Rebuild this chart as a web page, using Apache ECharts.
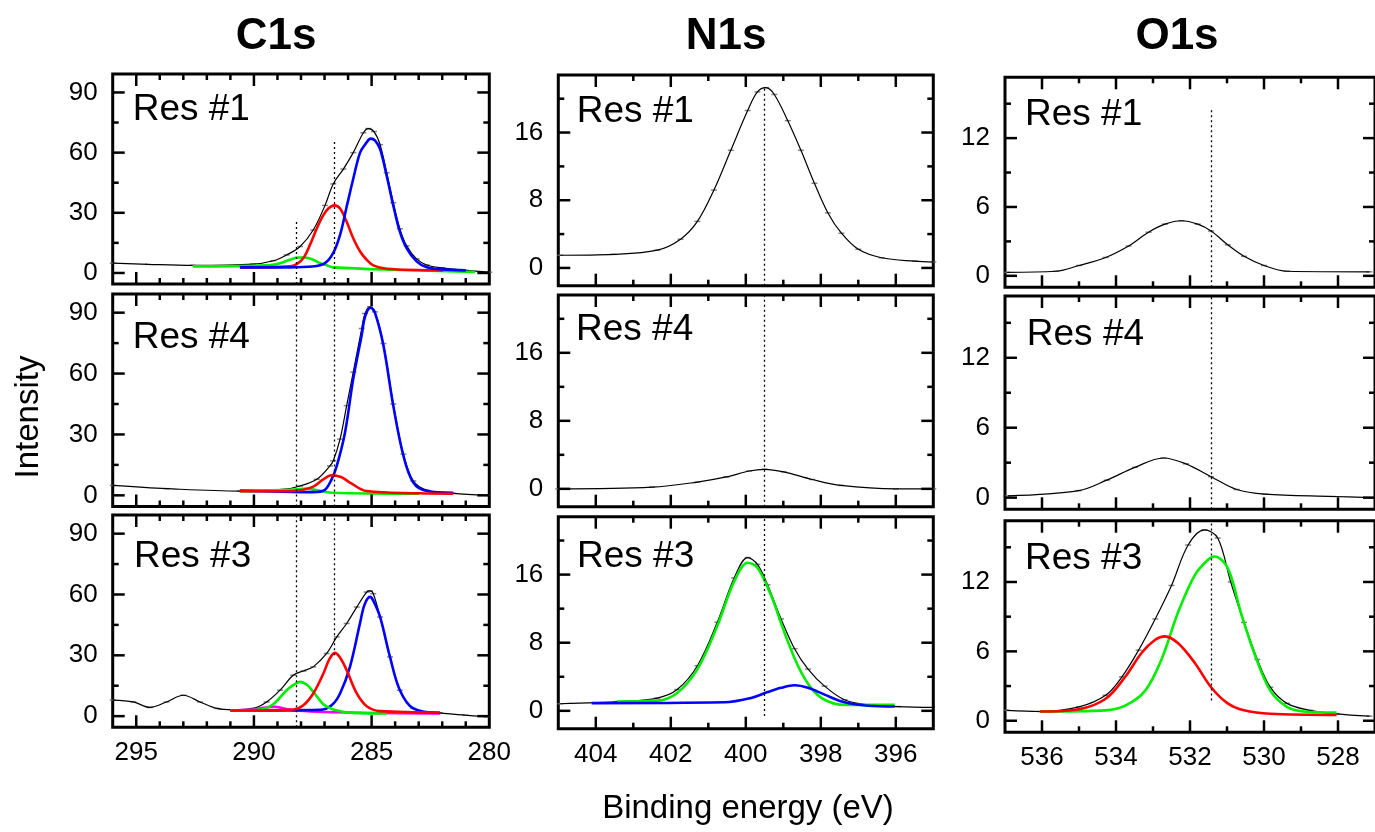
<!DOCTYPE html>
<html>
<head>
<meta charset="utf-8">
<script src="https://cdn.jsdelivr.net/npm/echarts/dist/echarts.min.js"></script>
<style>
html,body{margin:0;padding:0;background:#fff;}
#chart{width:1375px;height:832px;}
</style>
</head>
<body>
<div id="chart"></div>
<script>
// ---------------- Tick values ----------------
const C1S_X_MAJOR = [285, 290, 295];
const C1S_X_MINOR = [281, 282, 283, 284, 286, 287, 288, 289, 291, 292, 293, 294];
const C1S_X_LABELS = [280, 285, 290, 295];
const C1S_Y_MAJOR = [0, 30, 60, 90];
const C1S_Y_MINOR = [15, 45, 75];
const N1S_X_MAJOR = [396, 398, 400, 402, 404];
const N1S_X_MINOR = [397, 399, 401, 403];
const N1S_Y_MAJOR = [0, 8, 16];
const N1S_Y_MINOR = [4, 12, 20];
const O1S_X_MAJOR = [528, 530, 532, 534, 536];
const O1S_X_MINOR = [529, 531, 533, 535];
const O1S_Y_MAJOR = [0, 6, 12];
const O1S_Y_MINOR = [3, 9, 15];

const COLUMN_TITLES = ['C1s', 'N1s', 'O1s'];
const ROW_LABELS = ['Res #1', 'Res #4', 'Res #3'];

// ---------------- C1s, Res #1 ----------------
const C1_R1_FIT_E = [280.0, 281.0, 282.0, 282.66, 283.09, 283.51, 283.8, 284.08, 284.36, 284.64, 284.9, 285.14, 285.35, 285.78, 286.2, 286.63, 286.98, 287.48, 288.04, 288.61, 289.18, 290.04, 292.6, 294.5, 296.0];
const C1_R1_FIT_I = [0.4, 1.3, 2.5, 4.0, 7.0, 13.5, 22.0, 35.0, 50.0, 64.0, 70.5, 72.0, 69.9, 60.0, 51.8, 44.4, 33.7, 21.4, 13.2, 9.0, 6.1, 4.4, 3.8, 4.3, 4.9];
const C1_R1_BLUE_E = [281.0, 282.0, 282.66, 283.09, 283.51, 283.8, 284.08, 284.36, 284.64, 284.85, 285.04, 285.25, 285.49, 285.78, 286.06, 286.34, 286.63, 286.98, 287.5, 288.5, 290.6];
const C1_R1_BLUE_I = [1.3, 1.8, 2.8, 5.8, 12.3, 20.6, 33.7, 48.5, 61.7, 66.0, 67.0, 64.5, 60.0, 47.0, 33.0, 19.0, 10.0, 4.9, 3.2, 2.8, 2.8];
const C1_R1_RED_E = [281.96, 284.36, 284.93, 285.21, 285.49, 285.78, 286.06, 286.34, 286.58, 286.84, 287.05, 287.33, 287.62, 287.9, 288.18, 288.47, 290.58];
const C1_R1_RED_I = [1.3, 2.1, 3.8, 6.6, 10.7, 17.3, 25.5, 32.1, 33.7, 32.1, 28.8, 22.2, 14.0, 7.4, 4.4, 3.3, 2.8];
const C1_R1_GREEN_E = [280.61, 283.8, 286.63, 286.91, 287.19, 287.48, 287.83, 288.11, 288.47, 288.89, 289.46, 292.6];
const C1_R1_GREEN_I = [0.5, 1.5, 2.8, 3.8, 4.9, 6.6, 7.7, 7.7, 6.6, 4.9, 3.8, 3.3];

// ---------------- C1s, Res #4 ----------------
const C1_R2_FIT_E = [280.11, 281.53, 282.66, 283.23, 283.65, 284.08, 284.5, 284.86, 285.07, 285.28, 285.42, 285.78, 286.06, 286.34, 286.63, 286.77, 287.33, 288.04, 288.75, 290.59, 293.7, 296.0];
const C1_R2_FIT_I = [0.0, 1.0, 2.6, 7.1, 20.3, 45.0, 74.8, 90.4, 92.9, 89.6, 82.2, 60.7, 44.2, 27.7, 17.0, 14.5, 7.9, 4.6, 2.9, 2.1, 3.3, 4.9];
const C1_R2_BLUE_E = [281.53, 282.66, 283.23, 283.65, 284.08, 284.5, 284.86, 285.04, 285.28, 285.42, 285.78, 286.13, 286.48, 286.7, 287.0, 287.48, 290.6];
const C1_R2_BLUE_I = [1.3, 2.1, 6.3, 19.5, 44.2, 73.9, 90.0, 92.4, 88.0, 79.0, 57.4, 31.0, 14.5, 7.9, 2.6, 1.6, 2.3];
const C1_R2_RED_E = [281.53, 283.0, 285.21, 285.92, 286.3, 286.7, 287.1, 287.48, 288.33, 290.6];
const C1_R2_RED_I = [0.8, 1.0, 2.1, 6.3, 9.0, 9.9, 7.5, 4.3, 2.1, 2.0];
const C1_R2_GREEN_E = [283.0, 286.7, 287.3, 287.76, 288.3, 290.6];
const C1_R2_GREEN_I = [0.8, 1.3, 2.5, 3.3, 2.8, 2.0];

// ---------------- C1s, Res #3 ----------------
const C1_R3_FIT_E = [280.11, 281.03, 282.1, 283.23, 283.8, 284.22, 284.64, 284.93, 285.07, 285.21, 285.63, 286.06, 286.48, 286.91, 287.48, 287.9, 288.33, 288.89, 289.46, 290.03, 290.88, 291.58, 292.29, 293.0, 293.71, 294.42, 295.12, 296.0];
const C1_R3_FIT_I = [-0.3, 0.5, 1.6, 3.8, 12.8, 29.2, 48.9, 60.4, 61.8, 61.2, 53.8, 45.7, 39.1, 30.9, 24.3, 22.3, 20.2, 12.8, 7.0, 3.8, 3.1, 3.8, 7.0, 10.3, 7.0, 4.3, 7.0, 7.9];
const C1_R3_BLUE_E = [282.1, 283.23, 283.8, 284.22, 284.64, 284.93, 285.07, 285.3, 285.49, 285.92, 286.34, 286.7, 287.19, 291.0];
const C1_R3_BLUE_I = [1.6, 3.8, 12.8, 29.2, 48.9, 57.0, 58.8, 55.0, 46.0, 24.3, 11.2, 5.4, 3.1, 2.8];
const C1_R3_RED_E = [282.1, 284.64, 285.21, 285.63, 286.06, 286.35, 286.56, 286.8, 287.05, 287.48, 287.9, 288.33, 291.0];
const C1_R3_RED_I = [1.8, 2.5, 4.9, 11.2, 22.7, 29.0, 31.2, 28.0, 21.0, 11.2, 5.4, 3.3, 2.8];
const C1_R3_GREEN_E = [284.36, 285.8, 286.63, 287.05, 287.48, 287.75, 288.04, 288.3, 288.61, 289.18, 289.74, 291.0];
const C1_R3_GREEN_I = [1.3, 1.6, 3.3, 5.9, 12.0, 15.5, 16.9, 15.5, 12.8, 5.9, 3.3, 2.8];
const C1_R3_MAG_E = [282.1, 286.0, 288.3, 288.8, 289.1, 289.5, 290.0, 291.0];
const C1_R3_MAG_I = [1.3, 1.8, 2.8, 4.0, 4.6, 4.3, 3.3, 2.8];

// ---------------- N1s ----------------
const N1_R1_FIT_E = [395.0, 395.49, 396.38, 397.0, 397.45, 397.81, 398.17, 398.53, 398.88, 399.24, 399.46, 399.69, 399.95, 400.4, 400.85, 401.29, 401.74, 402.36, 403.53, 404.95];
const N1_R1_FIT_I = [0.7, 0.8, 1.2, 2.2, 4.1, 6.5, 10.0, 13.9, 17.4, 20.5, 21.3, 20.8, 18.6, 13.9, 9.2, 5.5, 3.4, 2.1, 1.6, 1.5];
const N1_R2_FIT_E = [395.0, 396.0, 397.46, 398.23, 398.99, 399.5, 399.91, 400.52, 401.29, 402.5, 405.0];
const N1_R2_FIT_I = [0.0, 0.0, 0.4, 1.1, 2.0, 2.3, 2.1, 1.4, 0.8, 0.2, 0.0];
const N1_R3_FIT_E = [394.95, 395.94, 396.74, 397.37, 397.9, 398.34, 398.7, 399.06, 399.42, 399.69, 399.95, 400.31, 400.76, 401.29, 401.83, 402.36, 403.26, 404.95];
const N1_R3_FIT_I = [0.4, 0.5, 0.7, 1.3, 2.9, 4.9, 7.3, 10.8, 14.8, 17.2, 18.0, 15.6, 10.4, 5.3, 2.5, 1.5, 1.1, 0.83];
const N1_R3_GREEN_E = [396.03, 397.37, 397.9, 398.26, 398.61, 398.97, 399.33, 399.69, 399.95, 400.31, 400.76, 401.29, 401.83, 402.36, 403.44];
const N1_R3_GREEN_I = [0.7, 0.7, 1.3, 2.7, 5.3, 9.2, 13.6, 16.8, 17.4, 15.2, 10.0, 4.9, 2.1, 1.2, 1.1];
const N1_R3_BLUE_E = [396.03, 396.74, 397.37, 397.9, 398.34, 398.7, 399.06, 399.42, 399.86, 400.58, 404.11];
const N1_R3_BLUE_I = [0.5, 0.6, 1.0, 1.9, 2.7, 3.0, 2.7, 2.2, 1.5, 1.0, 0.9];

// ---------------- O1s ----------------
const O1_R1_FIT_E = [527.15, 529.38, 530.0, 530.54, 530.98, 531.43, 531.79, 532.23, 532.68, 533.12, 533.66, 534.28, 535.0, 535.62, 536.95];
const O1_R1_FIT_I = [0.35, 0.4, 0.9, 1.7, 2.7, 3.9, 4.5, 4.8, 4.5, 3.8, 2.6, 1.6, 0.9, 0.4, 0.3];
const O1_R2_FIT_E = [527.1, 528.14, 529.98, 530.74, 531.43, 532.11, 532.72, 533.49, 534.25, 535.01, 536.92];
const O1_R2_FIT_I = [0.0, 0.1, 0.3, 0.7, 1.8, 2.9, 3.4, 2.6, 1.5, 0.6, 0.15];
const O1_R3_FIT_E = [527.15, 528.04, 528.76, 529.38, 529.83, 530.18, 530.54, 530.9, 531.25, 531.61, 532.05, 532.5, 532.94, 533.39, 533.84, 534.28, 535.0, 536.06, 536.95];
const O1_R3_FIT_I = [0.4, 0.6, 0.9, 1.5, 2.9, 5.3, 8.5, 12.0, 15.8, 16.5, 15.2, 11.7, 8.8, 6.1, 3.8, 2.2, 1.2, 0.8, 0.9];
const O1_R3_GREEN_E = [528.04, 528.93, 529.38, 529.83, 530.27, 530.63, 530.98, 531.34, 531.52, 531.87, 532.32, 532.77, 533.21, 533.75, 534.28, 536.06];
const O1_R3_GREEN_I = [0.7, 0.8, 1.2, 2.6, 5.9, 9.4, 13.2, 14.2, 13.9, 12.6, 9.4, 5.3, 2.6, 1.3, 0.9, 0.8];
const O1_R3_RED_E = [528.04, 529.83, 530.54, 530.98, 531.43, 531.87, 532.32, 532.68, 532.94, 533.3, 533.75, 534.28, 535.0, 536.06];
const O1_R3_RED_I = [0.5, 0.6, 0.9, 1.5, 2.9, 5.0, 6.7, 7.3, 7.0, 5.9, 3.8, 1.9, 1.0, 0.8];

// ---------------- Dotted reference lines (energy, [low, high] per row) ----------------
const C1S_DOT_E = [288.2, 286.6];
const C1S_DOT_SPANS = [[[-5.5, 25.5], [-5.5, 66.6]], [[-5.5, 99.2], [-5.5, 99.2]], [[-5.5, 99.2], [30, 99.2]]];
const N1S_DOT_E = [399.5];
const N1S_DOT_SPANS = [[[-2.1, 21.4]], [[-2.1, 22.8]], [[-0.6, 22.8]]];
const O1S_DOT_E = [531.43];
const O1S_DOT_SPANS = [[[-1, 14.6]], [[-1, 17.3]], [[1.75, 17.3]]];

// ---------------- Layout / style ----------------
const FONT = '"Liberation Sans", Arial, Helvetica, sans-serif';
const GREEN = '#00ee00', BLUE = '#0000ff', RED = '#ff0000', MAG = '#ff00ff';
const MAJOR_LEN = 12, MINOR_LEN = 6, TICK_W = 2.5;

const COLUMNS = [
  {left: 112.7, width: 376.6, xr: [280, 296], yr: [-5.5, 99.2], xMaj: C1S_X_MAJOR, xMin: C1S_X_MINOR, xLab: C1S_X_LABELS, yMaj: C1S_Y_MAJOR, yMin: C1S_Y_MINOR,
   tops: [74, 294, 515], heights: [210, 212.5, 212.3], titleX: 276, dotE: C1S_DOT_E, dotSpans: C1S_DOT_SPANS,
   labelPos: [[132.7, 110], [132.7, 338], [134, 557]]},
  {left: 558.3, width: 375, xr: [395, 405], yr: [-2.1, 22.8], xMaj: N1S_X_MAJOR, xMin: N1S_X_MINOR, xLab: N1S_X_MAJOR, yMaj: N1S_Y_MAJOR, yMin: N1S_Y_MINOR,
   tops: [75, 295, 516.7], heights: [210.7, 211.7, 212], titleX: 726, dotE: N1S_DOT_E, dotSpans: N1S_DOT_SPANS,
   labelPos: [[576.7, 111.5], [576, 330], [577, 556.5]]},
  {left: 1005, width: 374, xr: [527, 537], yr: [-1, 17.3], xMaj: O1S_X_MAJOR, xMin: O1S_X_MINOR, xLab: O1S_X_MAJOR, yMaj: O1S_Y_MAJOR, yMin: O1S_Y_MINOR,
   tops: [77.3, 296, 520.7], heights: [210, 213.3, 211.6], titleX: 1177, dotE: O1S_DOT_E, dotSpans: O1S_DOT_SPANS,
   labelPos: [[1025, 115], [1026.8, 335], [1025, 558.5]]}
];

const PANELS = [
  {col: 0, row: 0, curves: [[C1_R1_FIT_E, C1_R1_FIT_I, 'fit'], [C1_R1_GREEN_E, C1_R1_GREEN_I, GREEN], [C1_R1_RED_E, C1_R1_RED_I, RED], [C1_R1_BLUE_E, C1_R1_BLUE_I, BLUE]]},
  {col: 0, row: 1, curves: [[C1_R2_FIT_E, C1_R2_FIT_I, 'fit'], [C1_R2_GREEN_E, C1_R2_GREEN_I, GREEN], [C1_R2_BLUE_E, C1_R2_BLUE_I, BLUE], [C1_R2_RED_E, C1_R2_RED_I, RED]]},
  {col: 0, row: 2, curves: [[C1_R3_FIT_E, C1_R3_FIT_I, 'fit'], [C1_R3_MAG_E, C1_R3_MAG_I, MAG], [C1_R3_BLUE_E, C1_R3_BLUE_I, BLUE], [C1_R3_GREEN_E, C1_R3_GREEN_I, GREEN], [C1_R3_RED_E, C1_R3_RED_I, RED]]},
  {col: 1, row: 0, curves: [[N1_R1_FIT_E, N1_R1_FIT_I, 'fit']]},
  {col: 1, row: 1, curves: [[N1_R2_FIT_E, N1_R2_FIT_I, 'fit']]},
  {col: 1, row: 2, curves: [[N1_R3_FIT_E, N1_R3_FIT_I, 'fit'], [N1_R3_GREEN_E, N1_R3_GREEN_I, GREEN], [N1_R3_BLUE_E, N1_R3_BLUE_I, BLUE]]},
  {col: 2, row: 0, curves: [[O1_R1_FIT_E, O1_R1_FIT_I, 'fit']]},
  {col: 2, row: 1, curves: [[O1_R2_FIT_E, O1_R2_FIT_I, 'fit']]},
  {col: 2, row: 2, curves: [[O1_R3_FIT_E, O1_R3_FIT_I, 'fit'], [O1_R3_GREEN_E, O1_R3_GREEN_I, GREEN], [O1_R3_RED_E, O1_R3_RED_I, RED]]}
];

// ---------------- Build option ----------------
const zip = (E, I) => E.map((e, k) => [e, I[k]]);
const grids = [], xAxes = [], yAxes = [], series = [], graphics = [];
const LABEL_STYLE = {color: '#000', fontSize: 26, fontFamily: FONT};
const DOT_LS = {type: [2, 3], color: '#000', width: 1.3};

PANELS.forEach((p, gi) => {
  const c = COLUMNS[p.col];
  grids.push({left: c.left, top: c.tops[p.row], width: c.width, height: c.heights[p.row],
    show: true, borderColor: '#000', borderWidth: 3, backgroundColor: 'rgba(0,0,0,0)'});
  const xi = xAxes.length, yi = yAxes.length;
  xAxes.push({gridIndex: gi, type: 'value', position: 'bottom', min: c.xr[0], max: c.xr[1], inverse: true,
    axisLine: {show: false, onZero: false}, splitLine: {show: false}, axisTick: {show: false},
    axisLabel: Object.assign({show: p.row === 2, customValues: c.xLab, margin: 13}, LABEL_STYLE)});
  yAxes.push({gridIndex: gi, type: 'value', position: 'left', min: c.yr[0], max: c.yr[1],
    axisLine: {show: false, onZero: false}, splitLine: {show: false}, axisTick: {show: false},
    axisLabel: Object.assign({show: true, customValues: c.yMaj, margin: 15}, LABEL_STYLE)});

  // Inward ticks on all four sides: rectangular marks placed at the tick values on the frame edges
  const ticks = [];
  [[c.xMaj, MAJOR_LEN], [c.xMin, MINOR_LEN]].forEach(([vals, len]) => vals.forEach(v => {
    ticks.push({value: [v, c.yr[0]], symbolSize: [TICK_W, len], symbolOffset: [0, -len / 2]});
    ticks.push({value: [v, c.yr[1]], symbolSize: [TICK_W, len], symbolOffset: [0, len / 2]});
  }));
  [[c.yMaj, MAJOR_LEN], [c.yMin, MINOR_LEN]].forEach(([vals, len]) => vals.forEach(v => {
    ticks.push({value: [c.xr[1], v], symbolSize: [len, TICK_W], symbolOffset: [len / 2, 0]});
    ticks.push({value: [c.xr[0], v], symbolSize: [len, TICK_W], symbolOffset: [-len / 2, 0]});
  }));
  series.push({type: 'scatter', xAxisIndex: xi, yAxisIndex: yi, data: ticks, symbol: 'rect',
    itemStyle: {color: '#000', opacity: 1}, silent: true, clip: false, z: 10, animation: false});

  const spans = c.dotSpans[p.row];
  p.curves.forEach(([E, I, kind]) => {
    const data = zip(E, I);
    if (kind === 'fit') {
      series.push({type: 'scatter', xAxisIndex: xi, yAxisIndex: yi, data: data, symbol: 'rect',
        symbolSize: [6, 1.5], itemStyle: {color: '#666'}, silent: true, z: 2});
      series.push({type: 'line', xAxisIndex: xi, yAxisIndex: yi, data: data, smooth: 0.35,
        showSymbol: false, lineStyle: {color: '#000', width: 1.2}, silent: true, z: 3,
        markLine: {silent: true, symbol: ['none', 'none'], label: {show: false}, animation: false,
          lineStyle: DOT_LS,
          data: c.dotE.map((e, k) => [{coord: [e, spans[k][0]]}, {coord: [e, spans[k][1]]}])}});
    } else {
      series.push({type: 'line', xAxisIndex: xi, yAxisIndex: yi, data: data, smooth: 0.35,
        showSymbol: false, lineStyle: {color: kind, width: 2.6}, silent: true, z: 4});
    }
  });

  graphics.push({type: 'text', x: c.labelPos[p.row][0], y: c.labelPos[p.row][1], silent: true,
    style: {text: ROW_LABELS[p.row], fill: '#000', font: '37px ' + FONT, align: 'left', verticalAlign: 'middle',
            textAlign: 'left', textVerticalAlign: 'middle'}});
});

COLUMNS.forEach((c, k) => {
  graphics.push({type: 'text', x: c.titleX, y: 37, silent: true,
    style: {text: COLUMN_TITLES[k], fill: '#000', font: 'bold 44px ' + FONT, align: 'center', verticalAlign: 'middle',
            textAlign: 'center', textVerticalAlign: 'middle'}});
});
graphics.push({type: 'text', x: 748, y: 809, silent: true,
  style: {text: 'Binding energy (eV)', fill: '#000', font: '33px ' + FONT, align: 'center', verticalAlign: 'middle',
          textAlign: 'center', textVerticalAlign: 'middle'}});
graphics.push({type: 'text', x: 29, y: 417, rotation: Math.PI / 2, silent: true,
  style: {text: 'Intensity', fill: '#000', font: '33px ' + FONT, align: 'center', verticalAlign: 'middle',
          textAlign: 'center', textVerticalAlign: 'middle'}});

const chart = echarts.init(document.getElementById('chart'), null, {renderer: 'canvas'});
chart.setOption({
  animation: false,
  backgroundColor: '#fff',
  grid: grids,
  xAxis: xAxes,
  yAxis: yAxes,
  series: series,
  graphic: graphics
});
</script>
</body>
</html>
